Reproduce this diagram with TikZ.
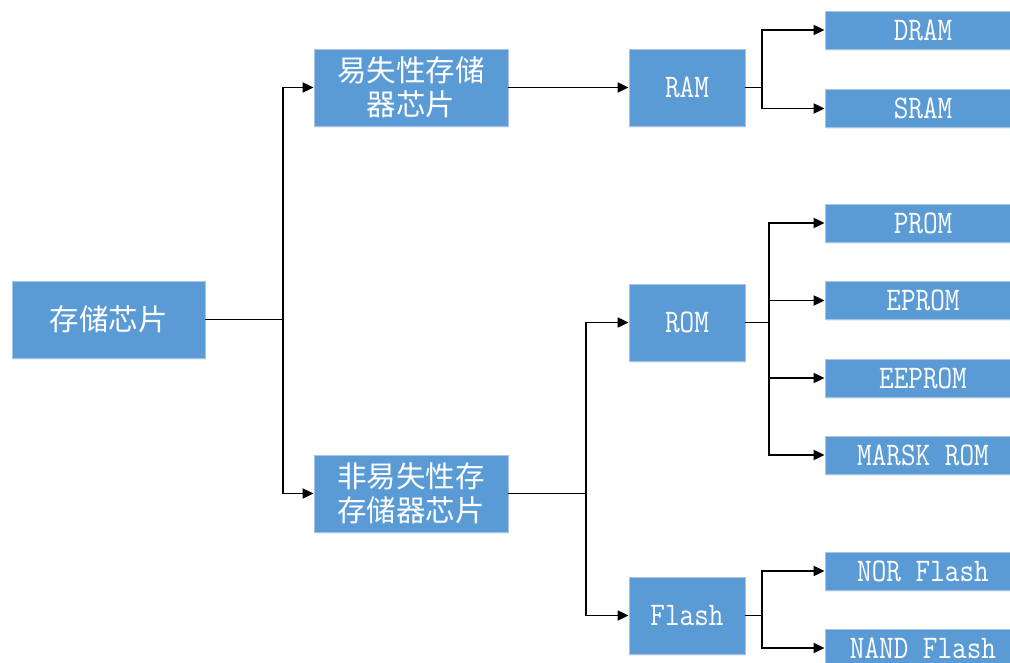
\documentclass[tikz,border=0pt]{standalone}
\usepackage{fontspec}
\newfontfamily\cjk{Noto Sans CJK SC}
\newfontfamily\lat[FakeStretch=0.86]{Latin Modern Mono}
\usetikzlibrary{arrows.meta,shadows}
\definecolor{boxfill}{HTML}{5B9BD5}
\definecolor{boxline}{HTML}{A9C4E2}
\tikzset{
  box/.style={draw=boxline, line width=0.8pt, fill=boxfill, text=white, inner sep=0pt, anchor=center,
    drop shadow={shadow xshift=0.8pt, shadow yshift=-1.6pt, fill=boxfill!25, opacity=0.6}},
  cbox/.style={box, font=\cjk\fontsize{29.5}{34}\selectfont, align=center},
  lbox/.style={box, font=\lat\fontsize{33}{34}\selectfont},
  conn/.style={line width=1.9pt, -{Triangle[length=11pt,width=10pt]}},
  plain/.style={line width=1.9pt}
}
\begin{document}
\begin{tikzpicture}[x=1pt,y=-1pt]
\useasboundingbox (0,0) rectangle (1010,663);
\clip (0,0) rectangle (1010,663);
% nodes
\node[cbox, minimum width=193pt, minimum height=77pt] (root) at (108.5,319.5) {存储芯片};
\node[cbox, minimum width=194pt, minimum height=77pt] (vol) at (411,87.5) {易失性存储\\器芯片};
\node[cbox, minimum width=194pt, minimum height=77pt] (nvol) at (411,493.5) {非易失性存\\存储器芯片};
\node[lbox, minimum width=116pt, minimum height=77pt] (ram) at (687,87.5) {RAM};
\node[lbox, minimum width=116pt, minimum height=77pt] (rom) at (687,322.5) {ROM};
\node[lbox, minimum width=116pt, minimum height=77pt] (flash) at (687,615.5) {Flash};
\node[lbox, minimum width=196pt, minimum height=38pt] (dram) at (923,30) {DRAM};
\node[lbox, minimum width=196pt, minimum height=38pt] (sram) at (923,108.5) {SRAM};
\node[lbox, minimum width=196pt, minimum height=38pt] (prom) at (923,223) {PROM};
\node[lbox, minimum width=196pt, minimum height=38pt] (eprom) at (923,300.5) {EPROM};
\node[lbox, minimum width=196pt, minimum height=38pt] (eeprom) at (923,378) {EEPROM};
\node[lbox, minimum width=196pt, minimum height=38pt] (mrom) at (923,455) {MARSK ROM};
\node[lbox, minimum width=196pt, minimum height=38pt] (nor) at (923,571) {NOR Flash};
\node[lbox, minimum width=196pt, minimum height=38pt] (nand) at (923,648) {NAND Flash};
% branch coordinates
\coordinate (b1) at (283,319.5);
\coordinate (b2) at (762,87.5);
\coordinate (b3) at (586,493.5);
\coordinate (b4) at (769,322.5);
\coordinate (b5) at (762,615.5);
% connectors
\draw[plain] (root.east) -- (b1);
\draw[conn] (b1) |- (vol.west);
\draw[conn] (b1) |- (nvol.west);
\draw[conn] (vol.east) -- (ram.west);
\draw[plain] (ram.east) -- (b2);
\draw[conn] (b2) |- (dram.west);
\draw[conn] (b2) |- (sram.west);
\draw[plain] (nvol.east) -- (b3);
\draw[conn] (b3) |- (rom.west);
\draw[conn] (b3) |- (flash.west);
\draw[plain] (rom.east) -- (b4);
\draw[conn] (b4) |- (prom.west);
\draw[conn] (b4) |- (eprom.west);
\draw[conn] (b4) |- (eeprom.west);
\draw[conn] (b4) |- (mrom.west);
\draw[plain] (flash.east) -- (b5);
\draw[conn] (b5) |- (nor.west);
\draw[conn] (b5) |- (nand.west);
\end{tikzpicture}
\end{document}
